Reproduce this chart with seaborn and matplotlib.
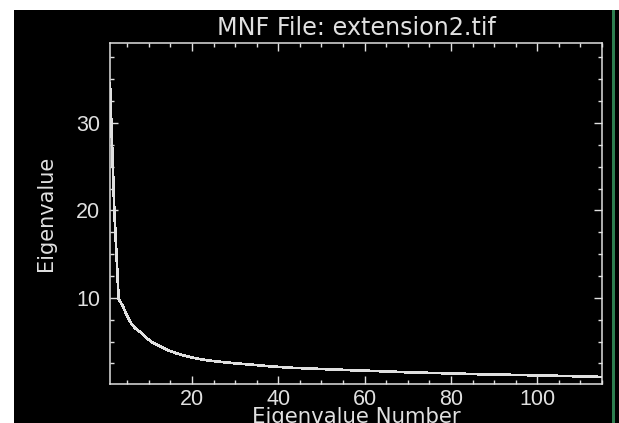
import matplotlib
matplotlib.use("Agg")
import matplotlib.pyplot as plt
import matplotlib.patches as mpatches
from matplotlib.ticker import MultipleLocator
import seaborn as sns
import pandas as pd

title = "MNF File: extension2.tif"
x_label = "Eigenvalue Number"
y_label = "Eigenvalue"

eigen_number = list(range(1, 116))
eigen_value = [
    34.5, 20.0, 9.9, 9.0, 7.9, 7.0, 6.45, 6.1, 5.6, 5.2,
    4.85, 4.6, 4.35, 4.1, 3.9, 3.72, 3.56, 3.42, 3.3, 3.18,
    3.07, 2.98, 2.9, 2.83, 2.77, 2.71, 2.66, 2.61, 2.56, 2.51,
    2.47, 2.43, 2.39, 2.35, 2.31, 2.25, 2.21, 2.17, 2.13, 2.10,
    2.07, 2.04, 2.00, 1.98, 1.96, 1.94, 1.92, 1.90, 1.88, 1.86,
    1.84, 1.82, 1.80, 1.78, 1.76, 1.74, 1.72, 1.71, 1.69, 1.67,
    1.65, 1.64, 1.62, 1.60, 1.58, 1.56, 1.54, 1.52, 1.50, 1.48,
    1.47, 1.45, 1.44, 1.43, 1.41, 1.40, 1.39, 1.38, 1.36, 1.35,
    1.34, 1.32, 1.31, 1.30, 1.29, 1.27, 1.26, 1.25, 1.24, 1.23,
    1.22, 1.21, 1.20, 1.19, 1.18, 1.17, 1.16, 1.15, 1.14, 1.13,
    1.12, 1.11, 1.10, 1.09, 1.07, 1.06, 1.05, 1.04, 1.03, 1.01,
    1.00, 0.99, 0.98, 0.96, 0.95,
]
x_ticks = [20, 40, 60, 80, 100]
y_ticks = [10, 20, 30]

FG = "#e0e0e0"
W, H = 619, 423

sns.set_theme(style="dark")
plt.rcParams["font.family"] = ["Liberation Sans", "DejaVu Sans"]

fig = plt.figure(figsize=(W / 100, H / 100), dpi=100, facecolor="black")
# white margins top/left, green strip at right (screen capture frame)
fig.patches.append(mpatches.Rectangle((0, 1 - 10 / H), 1, 10 / H, transform=fig.transFigure,
                                      facecolor="white", edgecolor="none", zorder=0))
fig.patches.append(mpatches.Rectangle((0, 0), 14 / W, 1, transform=fig.transFigure,
                                      facecolor="white", edgecolor="none", zorder=0))
fig.patches.append(mpatches.Rectangle((612 / W, 0), 3 / W, 1 - 10 / H, transform=fig.transFigure,
                                      facecolor="#2e7d4f", edgecolor="none", zorder=0))

ax = fig.add_axes([110 / W, (H - 383.5) / H, 492 / W, 340 / H])
ax.set_facecolor("black")

df = pd.DataFrame({"n": eigen_number, "v": eigen_value})
sns.lineplot(data=df, x="n", y="v", ax=ax, color=FG, linewidth=1.2, antialiased=False)

ax.set_xlim(1, 115)
ax.set_ylim(0.2, 39.1)
ax.set_xticks(x_ticks)
ax.set_yticks(y_ticks)
ax.xaxis.set_minor_locator(MultipleLocator(5))
ax.yaxis.set_minor_locator(MultipleLocator(2.5))
ax.grid(False)

for s in ax.spines.values():
    s.set_visible(True)
    s.set_color(FG)
    s.set_linewidth(1.1)

ax.tick_params(which="both", direction="in", colors=FG, top=True, right=True,
               bottom=True, left=True, labeltop=False, labelright=False, width=1.0)
ax.tick_params(which="major", length=5.5, labelsize=15.5, labelcolor=FG)
ax.tick_params(which="minor", length=3)
ax.tick_params(axis="x", which="major", pad=4)
ax.tick_params(axis="y", which="major", pad=7)

lab_font = ["DejaVu Sans"]
ax.set_title(title, color=FG, fontsize=17.2, pad=6, family=lab_font)
ax.set_xlabel(x_label, color=FG, fontsize=15.3, va="top", family=lab_font)
ax.xaxis.set_label_coords(0.5, -0.07)
ax.set_ylabel(y_label, color=FG, fontsize=15, va="center", ha="center", family=lab_font)
ax.yaxis.set_label_coords(-0.13, 0.5)

fig.savefig("out.png", dpi=100, facecolor="black")
